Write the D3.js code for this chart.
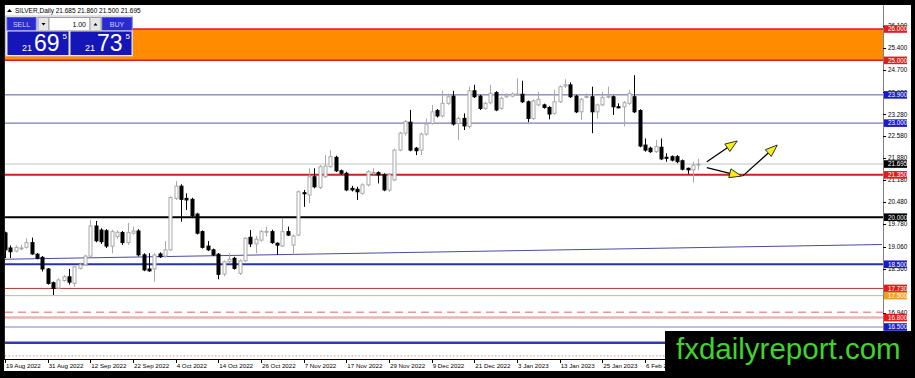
<!DOCTYPE html>
<html>
<head>
<meta charset="utf-8">
<script src="https://cdn.jsdelivr.net/npm/d3@7"></script>
<style>
  body { margin: 0; background: #000; }
  #chart text { font-family: "Liberation Sans", Arial, sans-serif; }
</style>
</head>
<body>
<div id="chart"></div>
<script>
// daily candles, open / high / low / close, first one is 19 Aug 2022
var ohlc = [
[19.50,19.54,18.70,18.96],[19.02,19.10,18.70,18.90],[18.92,19.10,18.88,19.04],[19.01,19.12,18.95,19.02],
[19.04,19.33,19.00,19.19],[19.19,19.35,18.80,18.83],[18.82,18.86,18.66,18.69],[18.72,18.76,18.27,18.35],
[18.35,18.38,17.85,17.89],[17.91,17.95,17.52,17.73],[17.74,18.05,17.70,18.00],[17.98,18.16,17.95,18.10],
[18.10,18.35,17.85,17.93],[17.89,18.45,17.78,18.42],[18.37,18.55,18.33,18.48],[18.48,18.80,18.45,18.76],
[18.76,19.91,18.72,19.72],[19.72,19.88,19.20,19.25],[19.59,19.65,19.15,19.22],[19.57,19.62,19.02,19.08],
[19.08,19.60,18.85,19.54],[19.38,19.58,19.30,19.52],[19.51,19.56,19.12,19.19],[19.19,19.82,19.12,19.51],
[19.49,19.70,19.45,19.56],[19.56,19.62,18.75,18.80],[18.80,18.85,18.28,18.32],[18.35,18.85,18.26,18.29],
[18.35,18.85,17.94,18.80],[18.83,18.88,18.70,18.74],[18.76,19.24,18.72,18.96],[18.96,20.66,18.93,20.63],
[20.60,21.15,20.55,20.99],[20.99,21.05,19.86,20.57],[20.60,20.76,20.23,20.55],[20.57,20.62,19.98,20.05],
[20.10,20.14,19.45,19.49],[19.54,19.58,19.00,19.04],[19.08,19.24,18.92,18.96],[18.96,19.00,18.76,18.80],
[18.82,18.86,18.02,18.18],[18.19,18.62,18.12,18.58],[18.58,18.85,18.53,18.66],[18.69,18.74,18.33,18.37],
[18.21,18.66,18.16,18.61],[18.61,19.36,18.57,19.33],[19.36,19.59,19.05,19.15],[19.15,19.40,18.85,19.30],
[19.27,19.60,19.22,19.54],[19.52,19.70,19.38,19.55],[19.54,19.60,19.15,19.19],[19.17,19.20,18.80,19.11],
[19.08,19.96,19.05,19.54],[19.54,19.70,19.40,19.43],[19.11,19.45,18.80,19.40],[19.43,20.85,19.40,20.81],
[20.78,20.87,20.33,20.75],[20.71,21.56,20.44,21.29],[21.29,21.56,20.92,20.97],[20.95,21.66,20.90,21.61],
[21.29,21.98,21.25,21.63],[21.61,22.14,21.58,21.93],[21.91,21.96,21.44,21.48],[21.48,21.52,21.35,21.40],
[21.40,21.45,20.83,20.87],[20.92,21.00,20.82,20.87],[20.89,20.97,20.55,20.81],[20.76,21.08,20.72,21.03],
[21.03,21.50,20.98,21.45],[21.41,21.56,21.35,21.43],[21.42,21.46,21.08,21.35],[21.35,21.40,20.83,20.87],
[20.87,21.40,20.81,21.35],[21.19,22.18,21.15,22.14],[22.14,22.72,22.10,22.68],[22.68,23.10,22.60,23.05],
[23.03,23.42,22.10,22.14],[22.20,22.24,21.98,22.12],[22.14,22.70,21.98,22.65],[22.65,23.15,22.60,22.97],
[22.99,23.58,22.95,23.36],[23.40,23.45,23.18,23.23],[23.23,24.03,23.18,23.63],[23.63,23.89,23.58,23.84],
[23.86,24.03,22.92,22.97],[22.99,23.20,22.46,23.15],[23.15,23.31,22.78,22.91],[22.89,24.16,22.83,24.03],
[24.03,24.22,23.80,23.84],[23.86,23.90,23.42,23.47],[23.47,23.68,23.42,23.63],[23.65,24.22,23.60,23.95],
[23.97,24.02,23.38,23.42],[23.47,23.84,23.43,23.79],[23.84,23.95,23.80,23.89],[23.86,23.98,23.82,23.93],
[23.92,24.43,23.88,23.93],[23.92,24.35,23.64,23.68],[23.68,23.72,23.03,23.15],[23.15,23.76,23.10,23.71],
[23.58,24.00,23.54,23.76],[23.58,23.62,23.46,23.50],[23.50,23.54,23.12,23.29],[23.31,24.06,23.27,23.68],
[23.68,24.20,23.64,24.16],[24.18,24.40,24.12,24.22],[24.22,24.30,23.80,23.84],[23.86,23.90,23.32,23.36],
[23.36,23.80,23.10,23.76],[23.83,23.95,23.79,23.85],[23.84,24.16,22.68,23.36],[23.36,23.62,23.15,23.58],
[23.58,24.00,23.54,23.82],[23.84,24.16,23.79,23.86],[23.84,23.88,23.26,23.52],[23.52,23.63,23.47,23.49],
[23.52,23.70,22.89,23.65],[23.63,24.05,23.58,23.95],[23.84,24.53,23.32,23.36],[23.40,23.44,22.23,22.27],
[22.30,22.51,22.09,22.14],[22.20,22.25,22.05,22.09],[22.09,22.46,22.05,22.25],[22.23,22.51,21.82,21.86],
[21.91,22.04,21.77,21.88],[21.93,21.97,21.78,21.82],[21.93,21.98,21.72,21.77],[21.80,21.84,21.49,21.53],
[21.56,21.58,21.38,21.51],[21.51,21.77,21.10,21.66],[21.685,21.86,21.50,21.695]
];

var dateLabels = ["19 Aug 2022","31 Aug 2022","12 Sep 2022","22 Sep 2022","4 Oct 2022","14 Oct 2022",
  "26 Oct 2022","7 Nov 2022","17 Nov 2022","29 Nov 2022","9 Dec 2022","21 Dec 2022","3 Jan 2023",
  "13 Jan 2023","25 Jan 2023","6 Feb 2023"];
var dateIndex = [0,8,16,24,32,40,48,56,64,72,80,88,96,104,112,120];

var priceTicks = [26.100,25.400,24.700,23.980,23.280,22.580,21.880,21.180,20.480,19.780,19.060,18.360,16.940];

// horizontal levels drawn on the chart
var levelPrice = [26.000,25.000,23.900,23.000,21.695,21.350,20.000,18.500,17.730,17.500,16.970,16.800,16.500,16.000,15.580];
var levelColor = ["#e01a1a","#e01a1a","#5a5aa6","#5a5aa6","#c4c4c4","#cc2222","#000000","#2434a0","#a83a3a","#e8b64a","#e39a9a","#ebb4b4","#a8a8e0","#2e3cb0","#e59090"];
var levelWidth = [1.5,1.5,1,1,1,2,2,2,1,1,1.5,2.5,1.5,2.5,1];
var levelDash = [null,null,null,null,null,null,null,null,null,null,"8,5",null,null,null,"1.5,2"];

// boxed price labels on the right scale
var tagPrice = [26.000,25.000,23.900,23.000,21.695,21.350,20.000,18.500,17.730,17.500,16.800,16.500];
var tagColor = ["#e31b1b","#e31b1b","#1a1acc","#1a1acc","#000000","#e31b1b","#000000","#1a1acc","#e31b1b","#f0a020","#e31b1b","#1a1acc"];

// trendline and the drawn arrows, as [bar index, price]
var trendLine = [[0,18.66],[164.44,19.13]];
var arrows = [
  [[131.6,21.77],[137.3,22.43]],
  [[131.6,21.58],[138.1,21.31]],
  [[138.3,21.31],[144.8,22.30]]
];

var width = 915, height = 378;

var svg = d3.select("#chart").append("svg")
    .attr("width", width)
    .attr("height", height);

svg.append("rect").attr("width", width).attr("height", height).attr("fill", "#000");
svg.append("rect").attr("x", 4).attr("y", 5).attr("width", 907).attr("height", 366).attr("fill", "#fff");

var x = d3.scaleLinear().domain([0, 164.44]).range([5, 882]);
var y = d3.scaleLinear().domain([26, 16.5]).range([29, 327]);

// orange zone between 25 and 26
svg.append("rect")
  .attr("x", 5).attr("width", 878)
  .attr("y", y(26)).attr("height", y(25) - y(26))
  .attr("fill", "#ff8c00");

// level lines
svg.selectAll("line.level")
  .data(levelPrice)
  .enter()
  .append("line")
    .attr("class", "level")
    .attr("x1", 5).attr("x2", 883)
    .attr("y1", function(d){ return y(d) })
    .attr("y2", function(d){ return y(d) })
    .attr("stroke", function(d,i){ return levelColor[i] })
    .attr("stroke-width", function(d,i){ return levelWidth[i] })
    .attr("stroke-dasharray", function(d,i){ return levelDash[i] });

svg.append("line")
  .attr("x1", x(trendLine[0][0])).attr("y1", y(trendLine[0][1]))
  .attr("x2", x(trendLine[1][0])).attr("y2", y(trendLine[1][1]))
  .attr("stroke", "#4a4aa0").attr("stroke-width", 1);

// candles
var candles = svg.selectAll("g.candle")
  .data(ohlc)
  .enter()
  .append("g")
  .attr("class", "candle");

candles.append("line")
  .attr("x1", function(d,i){ return Math.round(x(i)) + 0.5 })
  .attr("x2", function(d,i){ return Math.round(x(i)) + 0.5 })
  .attr("y1", function(d){ return y(d[1]) })
  .attr("y2", function(d){ return y(d[2]) })
  .attr("stroke", function(d){ return d[3] >= d[0] ? "#a8a8a8" : "#000" })
  .attr("stroke-width", 1);

candles.append("rect")
  .attr("x", function(d,i){ return Math.round(x(i)) - 1 })
  .attr("width", 3)
  .attr("y", function(d){ return y(Math.max(d[0], d[3])) })
  .attr("height", function(d){ return Math.max(1, Math.abs(y(d[0]) - y(d[3]))) })
  .attr("fill", function(d){ return d[3] >= d[0] ? "#fff" : "#000" })
  .attr("stroke", function(d){ return d[3] >= d[0] ? "#a8a8a8" : "#000" })
  .attr("stroke-width", 1);

// arrows: black shaft with a yellow head
arrows.forEach(function(a){
  var x1 = x(a[0][0]), y1 = y(a[0][1]), x2 = x(a[1][0]), y2 = y(a[1][1]);
  var ang = Math.atan2(y2 - y1, x2 - x1);
  var hl = 12, hw = 4.5;
  var bx = x2 - hl * Math.cos(ang), by = y2 - hl * Math.sin(ang);
  svg.append("line").attr("x1", x1).attr("y1", y1).attr("x2", bx).attr("y2", by)
    .attr("stroke", "#000").attr("stroke-width", 1.3);
  var pts = [[x2, y2],
    [bx + hw * Math.sin(ang), by - hw * Math.cos(ang)],
    [bx - hw * Math.sin(ang), by + hw * Math.cos(ang)]];
  svg.append("polygon").attr("points", pts.map(function(p){ return p.join(",") }).join(" "))
    .attr("fill", "#f4f01c").attr("stroke", "#000").attr("stroke-width", 0.8);
});

// axes
svg.append("line").attr("x1", 883.5).attr("x2", 883.5).attr("y1", 5).attr("y2", 359).attr("stroke", "#808080");
svg.append("line").attr("x1", 4.5).attr("x2", 4.5).attr("y1", 5).attr("y2", 359).attr("stroke", "#222");
svg.append("line").attr("x1", 4).attr("x2", 884).attr("y1", 359.5).attr("y2", 359.5).attr("stroke", "#000");

svg.selectAll("line.ptick").data(priceTicks).enter().append("line")
  .attr("x1", 883).attr("x2", 886)
  .attr("y1", function(d){ return Math.round(y(d)) + 0.5 })
  .attr("y2", function(d){ return Math.round(y(d)) + 0.5 })
  .attr("stroke", "#000");
svg.selectAll("text.ptick").data(priceTicks).enter().append("text")
  .attr("x", 888).attr("y", function(d){ return y(d) + 2.2 })
  .style("font-size", "6.3px").attr("fill", "#000")
  .text(function(d){ return d.toFixed(3) });

svg.selectAll("rect.tag").data(tagPrice).enter().append("rect")
  .attr("x", 884).attr("width", 23)
  .attr("y", function(d){ return y(d) - 3.8 }).attr("height", 7.6)
  .attr("fill", function(d,i){ return tagColor[i] });
svg.selectAll("text.tag").data(tagPrice).enter().append("text")
  .attr("x", 888).attr("y", function(d){ return y(d) + 2.3 })
  .style("font-size", "6.3px").attr("fill", "#fff")
  .text(function(d){ return d.toFixed(3) });

svg.selectAll("line.dtick").data(dateIndex).enter().append("line")
  .attr("x1", function(d){ return Math.round(x(d)) + 0.5 })
  .attr("x2", function(d){ return Math.round(x(d)) + 0.5 })
  .attr("y1", 359).attr("y2", 363)
  .attr("stroke", "#000");
svg.selectAll("text.dtick").data(dateLabels).enter().append("text")
  .attr("x", function(d,i){ return x(dateIndex[i]) + 1 })
  .attr("y", 367.5)
  .style("font-size", "6.2px").attr("fill", "#000")
  .text(function(d){ return d });

// symbol header
svg.append("path").attr("d", "M7,12 L9.5,9 L12,12 Z").attr("fill", "#000");
svg.append("text").attr("x", 15).attr("y", 12.5)
  .style("font-size", "6.5px").attr("fill", "#000")
  .text("SILVER,Daily  21.685 21.860 21.500 21.695");

// one click trading panel
var panel = svg.append("g");
panel.append("rect").attr("x", 5.5).attr("y", 16).attr("width", 127).attr("height", 40)
  .attr("fill", "#eeeeee").attr("stroke", "#c8c8c8");
panel.append("rect").attr("x", 7).attr("y", 17.5).attr("width", 29).attr("height", 13)
  .attr("fill", "#2a2ad2").attr("stroke", "#5a5ae8");
panel.append("text").attr("x", 21.5).attr("y", 26.5).attr("text-anchor", "middle")
  .style("font-size", "7px").attr("fill", "#d0d0ff").text("SELL");
panel.append("rect").attr("x", 102).attr("y", 17.5).attr("width", 30).attr("height", 13)
  .attr("fill", "#2a2ad2").attr("stroke", "#5a5ae8");
panel.append("text").attr("x", 117).attr("y", 26.5).attr("text-anchor", "middle")
  .style("font-size", "7px").attr("fill", "#d0d0ff").text("BUY");
panel.append("rect").attr("x", 38).attr("y", 17.5).attr("width", 11).attr("height", 13)
  .attr("fill", "#e6e6e6").attr("stroke", "#a0a0a0");
panel.append("path").attr("d", "M41.5,23 L45.5,23 L43.5,25.5 Z").attr("fill", "#000");
panel.append("rect").attr("x", 49).attr("y", 17.5).attr("width", 41).attr("height", 13)
  .attr("fill", "#fff").attr("stroke", "#a0a0a0");
panel.append("text").attr("x", 86).attr("y", 26.5).attr("text-anchor", "end")
  .style("font-size", "7px").attr("fill", "#000").text("1.00");
panel.append("rect").attr("x", 90).attr("y", 17.5).attr("width", 11).attr("height", 13)
  .attr("fill", "#e6e6e6").attr("stroke", "#a0a0a0");
panel.append("path").attr("d", "M93.5,25.5 L97.5,25.5 L95.5,23 Z").attr("fill", "#000");

var quotes = [["21","69","5"],["21","73","5"]];
var quoteX = [7, 70];
quotes.forEach(function(q, i){
  var bx = quoteX[i];
  panel.append("rect").attr("x", bx).attr("y", 31).attr("width", 62).attr("height", 24.5)
    .attr("fill", "#1515b8").attr("stroke", "#e8e8e8");
  panel.append("text").attr("x", bx + 15).attr("y", 50.5)
    .style("font-size", "9px").attr("fill", "#fff").text(q[0]);
  panel.append("text").attr("x", bx + 27).attr("y", 51)
    .style("font-size", "23px").attr("fill", "#fff").text(q[1]);
  panel.append("text").attr("x", bx + 55.5).attr("y", 39)
    .style("font-size", "8px").attr("fill", "#fff").text(q[2]);
});

// watermark
svg.append("rect").attr("x", 665).attr("y", 331).attr("width", 250).attr("height", 47).attr("fill", "#000");
svg.append("text").attr("x", 676).attr("y", 359)
  .style("font-size", "29.5px").attr("fill", "#3fd42a")
  .text("fxdailyreport.com");
</script>
</body>
</html>
